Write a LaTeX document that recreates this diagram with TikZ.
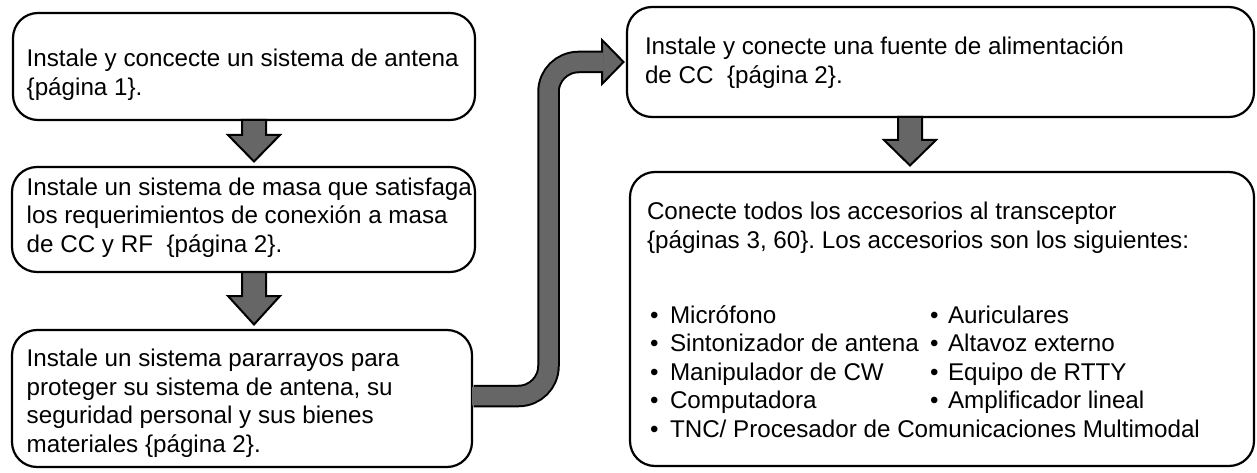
\documentclass[tikz,border=0pt]{standalone}
\usepackage{fontspec}
\setmainfont{Liberation Sans}
\usetikzlibrary{calc}
\definecolor{arrgray}{RGB}{102,102,102}
\newcommand{\lns}[1]{\begin{tabular}[t]{@{}l@{}}#1\end{tabular}}
\frenchspacing
\begin{document}
\begin{tikzpicture}[x=1pt,y=-1pt,
  box/.style={draw=black, line width=2.2pt, rounded corners=25pt, fill=white, inner sep=0pt},
  txt/.style={anchor=base west, inner sep=0pt, outer sep=0pt, font=\fontsize{24.2}{28.5}\selectfont},
  arrfill/.style={draw=black, fill=arrgray, line width=2pt, line join=miter},
  shaftout/.style={draw=black, line width=22.5pt, rounded corners=30pt},
  shaftin/.style={draw=arrgray, line width=18.5pt, rounded corners=30pt}]
\useasboundingbox (0,0) rectangle (1257,473);

% boxes
\node[box, minimum width=462pt, minimum height=107pt] (b1) at (244,66.5) {};
\node[box, minimum width=463pt, minimum height=105pt] (b2) at (243.5,219.5) {};
\node[box, minimum width=460pt, minimum height=137pt] (b3) at (242,398.5) {};
\node[box, minimum width=627pt, minimum height=110pt] (b4) at (940.5,62) {};
\node[box, minimum width=624pt, minimum height=294pt] (b5) at (942,319) {};

% texts
\node[txt] (t1) at (26.7,67) {\lns{Instale y concecte un sistema de antena\\\{página 1\}.}};
\node[txt] (t2) at (26.7,195) {\lns{Instale un sistema de masa que satisfaga\\los requerimientos de conexión a masa\\de CC y RF\ \ \{página 2\}.}};
\node[txt] (t3) at (26.7,366.7) {\lns{Instale un sistema pararrayos para\\proteger su sistema de antena, su\\seguridad personal y sus bienes\\materiales \{página 2\}.}};
\node[txt] (t4) at (645,55) {\lns{Instale y conecte una fuente de alimentación\\de CC\ \ \{página 2\}.}};
\node[txt] (t5) at (647,219.8) {\lns{Conecte todos los accesorios al transceptor\\\{páginas 3, 60\}. Los accesorios son los siguientes:}};
\node[txt] (l1b) at (650,323) {\lns{•\\•\\•\\•\\•}};
\node[txt] (l1t) at (670,323) {\lns{Micrófono\\Sintonizador de antena\\Manipulador de CW\\Computadora\\TNC/ Procesador de Comunicaciones Multimodal}};
\node[txt] (l2b) at (930,323) {\lns{•\\•\\•\\•}};
\node[txt] (l2t) at (948,323) {\lns{Auriculares\\Altavoz externo\\Equipo de RTTY\\Amplificador lineal}};

% down arrows
\coordinate (a1s) at (254,120);
\coordinate (a1t) at (254,161.5);
\draw[arrfill] ($(a1s)+(-12,0)$) -- ++(0,15) -- ++(-14,0) -- (a1t) -- ($(a1s)+(26,15)$) -- ++(-14,0) -- ($(a1s)+(12,0)$) -- cycle;

\coordinate (a2s) at (254,272);
\coordinate (a2t) at (254,324.5);
\draw[arrfill] ($(a2s)+(-12,0)$) -- ++(0,24) -- ++(-14,0) -- (a2t) -- ($(a2s)+(26,24)$) -- ++(-14,0) -- ($(a2s)+(12,0)$) -- cycle;

\coordinate (a3s) at (910,117);
\coordinate (a3t) at (910,165.5);
\draw[arrfill] ($(a3s)+(-12,0)$) -- ++(0,23) -- ++(-14,0) -- (a3t) -- ($(a3s)+(26,23)$) -- ++(-14,0) -- ($(a3s)+(12,0)$) -- cycle;

% curved arrow from b3 to b4
\coordinate (c0) at (473.5,396);
\coordinate (c1) at (548.5,396);
\coordinate (c2) at (548.5,62);
\coordinate (hb) at (602,62);
\coordinate (hb2) at (603.6,62);
\coordinate (tip) at (623.5,62);
\draw[arrfill] ($(hb)+(0,-22)$) -- (tip) -- ($(hb)+(0,22)$) -- cycle;
\draw[shaftout] (c0) -- (c1) -- (c2) -- (hb);
\draw[shaftin] ($(c0)+(-1.5,0)$) -- (c1) -- (c2) -- (hb2);
\end{tikzpicture}
\end{document}
